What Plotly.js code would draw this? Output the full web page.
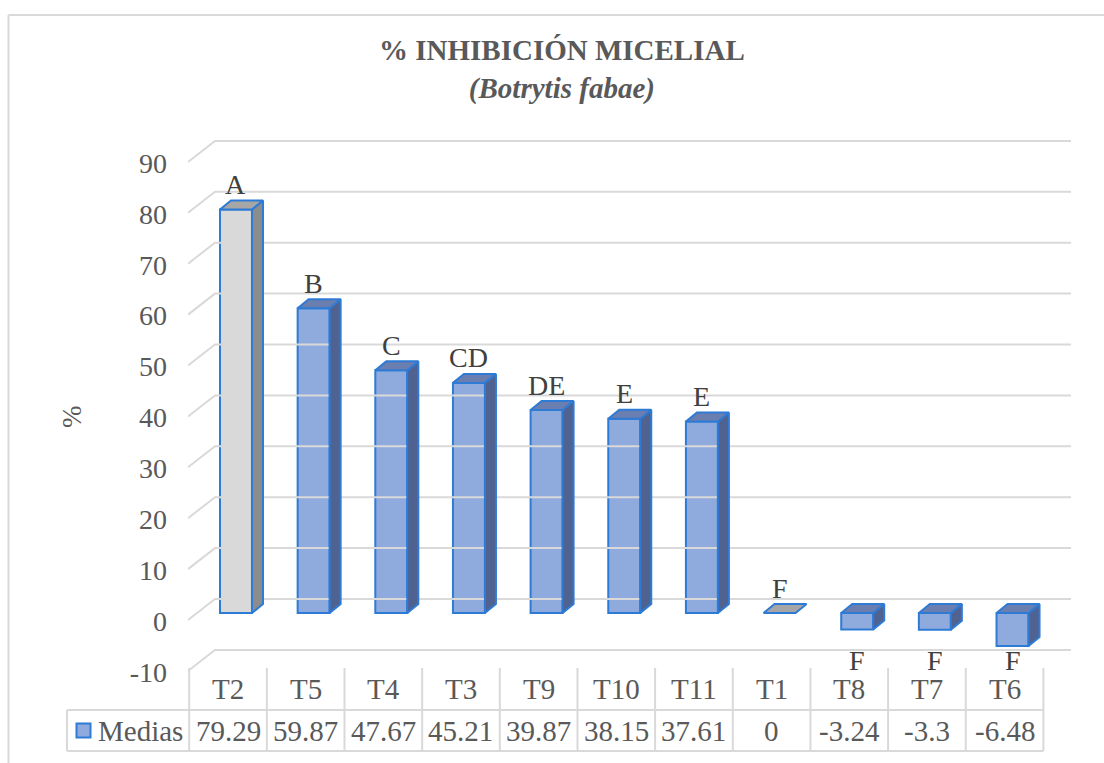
<!DOCTYPE html>
<html>
<head>
<meta charset="utf-8">
<script src="https://cdn.plot.ly/plotly-3.0.1.min.js"></script>
<style>html,body{margin:0;padding:0;background:#fff;}#chart{width:1104px;height:763px;}</style>
</head>
<body>
<div id="chart"></div>
<script>
// ---- data ----
const categories = ['T2','T5','T4','T3','T9','T10','T11','T1','T8','T7','T6'];
const medias = [79.29, 59.87, 47.67, 45.21, 39.87, 38.15, 37.61, 0, -3.24, -3.3, -6.48];
const letters = ['A','B','C','CD','DE','E','E','F','F','F','F'];
const yTicks = [-10, 0, 10, 20, 30, 40, 50, 60, 70, 80, 90];
const highlighted = ['T2', 'T1'];
const seriesName = 'Medias';

// ---- layout geometry ----
const W = 1104, H = 763;
const M = {l: 188, r: 33, t: 130, b: 83};
const plotW = W - M.l - M.r, plotH = H - M.t - M.b;
const xRange = [-0.618, 10.753];
const yRange = [-13.163, 94.892];
const pxPerX = plotW / (xRange[1] - xRange[0]);
const pxPerY = plotH / (yRange[1] - yRange[0]);
const ux = px => px / pxPerX;
const uy = px => px / pxPerY;
const paperX = px => (px - M.l) / plotW;
const paperY = py => (H - M.b - py) / plotH;

const FONT = 'Liberation Serif';
const TXT = '#595959';
const GRID = '#D9D9D9';
const EDGE = '#2E7BD6';

const barHalf = ux(16), depthX = ux(11), depthY = uy(9);
const blue = {front: '#8FAADC', top: '#6A7EB0', side: '#506290'};
const gray = {front: '#D9D9D9', top: '#A6A6A6', side: '#8C8C8C'};

const traces = [];

// gridlines (3D wall)
const gx = [], gy = [];
const xFront = xRange[0], xBack = xRange[0] + ux(27), xEnd = xRange[1];
yTicks.forEach(v => {
  gx.push(xFront, xBack, xEnd, null);
  gy.push(v - uy(7), v + uy(14), v + uy(14), null);
});
traces.push({type: 'scatter', mode: 'lines', x: gx, y: gy, line: {color: GRID, width: 2},
  hoverinfo: 'skip', showlegend: false, cliponaxis: false});

// front faces
const idx = categories.map((c, i) => i);
traces.push({type: 'bar', x: idx, y: medias, width: barHalf * 2, name: seriesName,
  marker: {color: categories.map(c => highlighted.includes(c) ? gray.front : blue.front),
           line: {color: EDGE, width: 2}},
  hoverinfo: 'skip', showlegend: false});

// side and top faces
medias.forEach((v, i) => {
  const pal = highlighted.includes(categories[i]) ? gray : blue;
  const top = Math.max(0, v), bot = Math.min(0, v);
  const xl = i - barHalf, xr = i + barHalf;
  if (top !== bot) {
    traces.push({type: 'scatter', mode: 'lines', fill: 'toself', fillcolor: pal.side,
      x: [xr, xr + depthX, xr + depthX, xr, xr], y: [bot, bot + depthY, top + depthY, top, bot],
      line: {color: EDGE, width: 2}, hoverinfo: 'skip', showlegend: false});
  }
  traces.push({type: 'scatter', mode: 'lines', fill: 'toself', fillcolor: pal.top,
    x: [xl, xr, xr + depthX, xl + depthX, xl], y: [top, top, top + depthY, top + depthY, top],
    line: {color: EDGE, width: 2}, hoverinfo: 'skip', showlegend: false});
});

const annotations = [];
// letters
medias.forEach((v, i) => {
  annotations.push({x: i, y: v >= 0 ? v : yTicks[0], xref: 'x', yref: 'y',
    yshift: v >= 0 ? 25 : 3, text: letters[i], showarrow: false,
    xanchor: 'center', yanchor: 'middle', font: {family: FONT, size: 28, color: '#404040'}});
});

// title
annotations.push({xref: 'paper', yref: 'paper', x: paperX(562), y: paperY(70),
  xanchor: 'center', yanchor: 'middle', showarrow: false,
  text: '<b>% INHIBICIÓN MICELIAL</b><br><b><i>(Botrytis fabae)</i></b>',
  font: {family: FONT, size: 29, color: TXT}});
// y-axis title
annotations.push({xref: 'paper', yref: 'paper', x: paperX(72), y: paperY(417),
  xanchor: 'center', yanchor: 'middle', showarrow: false, textangle: -90,
  text: '%', font: {family: FONT, size: 27, color: TXT}});

// data table
const colStart = 189.2, colW = pxPerX, tblLeft = 67, rTop = 668, rMid = 710, rBot = 751;
const shapes = [];
const line = (x0, y0, x1, y1, color, w) => ({type: 'line', xref: 'paper', yref: 'paper',
  x0: paperX(x0), y0: paperY(y0), x1: paperX(x1), y1: paperY(y1), line: {color: color, width: w}});
for (let k = 0; k <= categories.length; k++) {
  const xp = colStart + k * colW;
  shapes.push(line(xp, rTop, xp, rBot, GRID, 2));
}
const tblRight = colStart + categories.length * colW;
shapes.push(line(tblLeft, rMid, tblRight, rMid, GRID, 2));
shapes.push(line(tblLeft, rBot, tblRight, rBot, GRID, 2));
shapes.push(line(tblLeft, rMid, tblLeft, rBot, GRID, 2));
// legend key
shapes.push({type: 'rect', xref: 'paper', yref: 'paper', x0: paperX(76.5), x1: paperX(90.5),
  y0: paperY(737.5), y1: paperY(723.5), fillcolor: blue.front, line: {color: EDGE, width: 2}});
// outer chart border
shapes.push(line(8.5, 15, 8.5, H + 5, GRID, 2));
shapes.push(line(8.5, 15, W + 5, 15, GRID, 2));

categories.forEach((c, i) => {
  annotations.push({xref: 'paper', yref: 'paper', x: paperX(colStart + (i + 0.5) * colW), y: paperY(689),
    xanchor: 'center', yanchor: 'middle', showarrow: false, text: c,
    font: {family: FONT, size: 29, color: TXT}});
  annotations.push({xref: 'paper', yref: 'paper', x: paperX(colStart + (i + 0.5) * colW), y: paperY(731),
    xanchor: 'center', yanchor: 'middle', showarrow: false, text: String(medias[i]),
    font: {family: FONT, size: 29, color: TXT}});
});
annotations.push({xref: 'paper', yref: 'paper', x: paperX(140), y: paperY(731),
  xanchor: 'center', yanchor: 'middle', showarrow: false, text: seriesName,
  font: {family: FONT, size: 29, color: TXT}});

const layout = {
  width: W, height: H, margin: M,
  paper_bgcolor: '#fff', plot_bgcolor: 'rgba(0,0,0,0)',
  showlegend: false,
  font: {family: FONT, color: TXT},
  xaxis: {range: xRange, showticklabels: false, showgrid: false, zeroline: false, showline: false, fixedrange: true},
  yaxis: {range: yRange, tickvals: yTicks, ticktext: yTicks.map(String), showgrid: false, zeroline: false,
    showline: false, ticks: '', ticklabelstandoff: 20, ticklabelshift: 8,
    tickfont: {family: FONT, size: 28, color: TXT}, fixedrange: true},
  shapes: shapes,
  annotations: annotations
};

Plotly.newPlot('chart', traces, layout, {displayModeBar: false, staticPlot: true});
</script>
</body>
</html>
